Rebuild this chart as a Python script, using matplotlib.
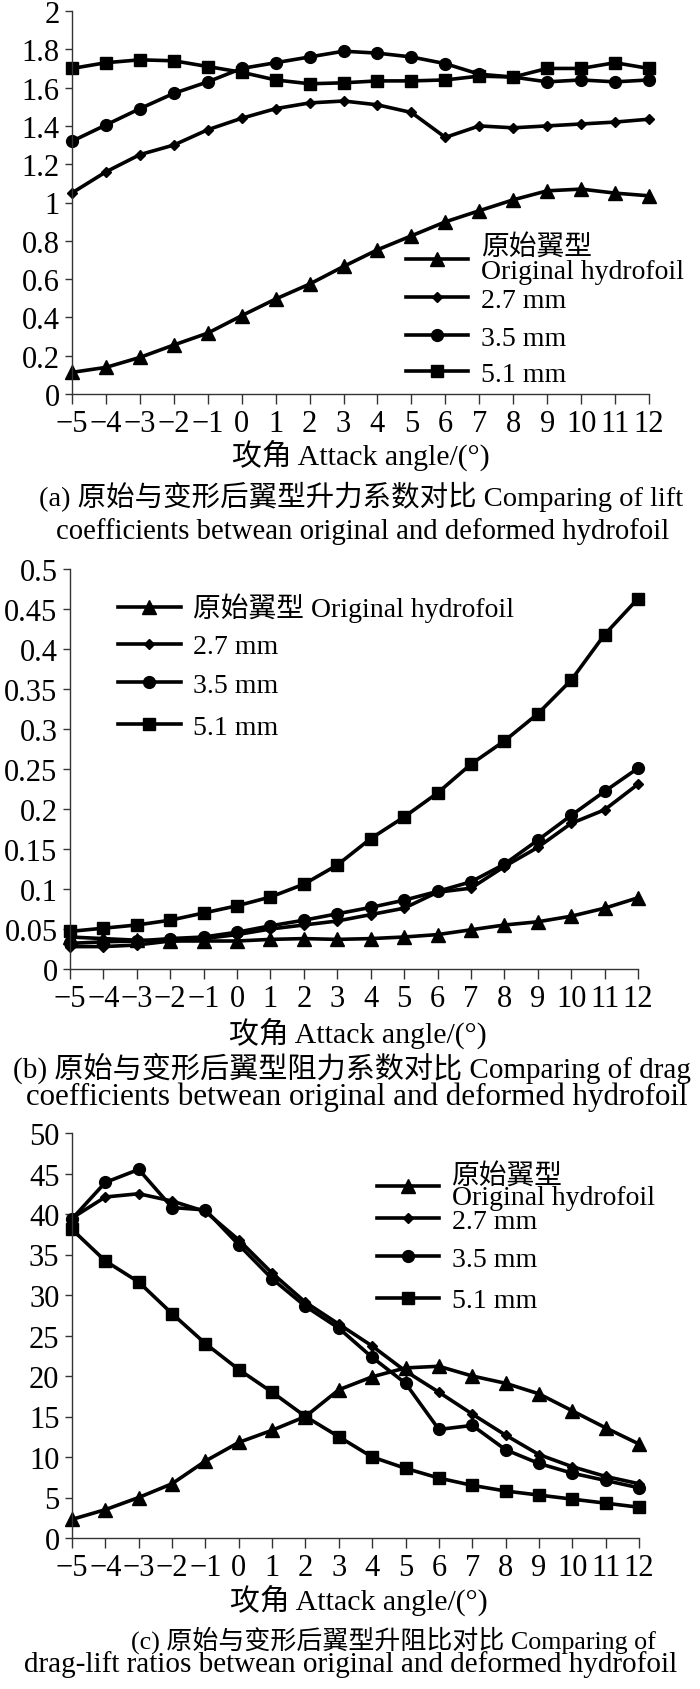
import matplotlib
matplotlib.use('Agg')
import matplotlib.pyplot as plt
from matplotlib.ticker import FixedLocator, FixedFormatter
from matplotlib.legend import Legend

plt.rcParams['font.family'] = ['Liberation Serif', 'Noto Sans CJK SC']

# ---------------- data ----------------
angles = list(range(-5, 13))
x_tick_labels = [str(a).replace('-', '\u2212') for a in angles]

# (a) lift coefficients
lift_original = [0.113, 0.139, 0.191, 0.256, 0.318, 0.409, 0.496, 0.574, 0.666, 0.753,
                 0.826, 0.899, 0.957, 1.014, 1.061, 1.070, 1.049, 1.035]
lift_27 = [1.05, 1.16, 1.25, 1.30, 1.38, 1.44, 1.49, 1.52, 1.53, 1.51,
           1.47, 1.34, 1.40, 1.39, 1.40, 1.41, 1.42, 1.435]
lift_35 = [1.32, 1.405, 1.49, 1.57, 1.63, 1.70, 1.73, 1.76, 1.79, 1.78,
           1.76, 1.725, 1.67, 1.655, 1.63, 1.64, 1.63, 1.64]
lift_51 = [1.70, 1.73, 1.745, 1.74, 1.71, 1.68, 1.64, 1.62, 1.625, 1.635,
           1.635, 1.64, 1.66, 1.655, 1.70, 1.70, 1.73, 1.70]
lift_yticks = [0, 0.2, 0.4, 0.6, 0.8, 1.0, 1.2, 1.4, 1.6, 1.8, 2.0]
lift_ytick_labels = ['0', '0.2', '0.4', '0.6', '0.8', '1', '1.2', '1.4', '1.6', '1.8', '2']

# (b) drag coefficients
drag_original = [0.040, 0.038, 0.036, 0.035, 0.035, 0.035, 0.037, 0.038, 0.037, 0.038,
                 0.040, 0.043, 0.049, 0.055, 0.059, 0.066, 0.076, 0.089]
drag_27 = [0.028, 0.028, 0.030, 0.035, 0.038, 0.043, 0.050, 0.055, 0.060, 0.068,
           0.076, 0.096, 0.101, 0.128, 0.152, 0.182, 0.199, 0.231]
drag_35 = [0.032, 0.034, 0.035, 0.038, 0.040, 0.046, 0.054, 0.061, 0.069, 0.077,
           0.086, 0.097, 0.109, 0.131, 0.161, 0.192, 0.222, 0.251]
drag_51 = [0.047, 0.051, 0.055, 0.061, 0.070, 0.079, 0.090, 0.106, 0.130, 0.163,
           0.190, 0.220, 0.256, 0.285, 0.319, 0.361, 0.418, 0.463]
drag_yticks = [0, 0.05, 0.1, 0.15, 0.2, 0.25, 0.3, 0.35, 0.4, 0.45, 0.5]
drag_ytick_labels = ['0', '0.05', '0.1', '0.15', '0.2', '0.25', '0.3', '0.35', '0.4', '0.45', '0.5']

# (c) lift-drag ratios
ratio_original = [2.3, 3.5, 5.0, 6.7, 9.5, 11.8, 13.3, 15.0, 18.3, 19.9,
                  21.0, 21.2, 20.0, 19.1, 17.8, 15.7, 13.6, 11.6]
ratio_27 = [39.5, 42.1, 42.5, 41.6, 40.3, 36.8, 32.7, 29.1, 26.4, 23.7,
            20.6, 18.0, 15.3, 12.7, 10.3, 8.8, 7.6, 6.7]
ratio_35 = [39.4, 43.9, 45.5, 40.8, 40.5, 36.2, 32.0, 28.6, 25.9, 22.3,
            19.1, 13.4, 13.9, 10.9, 9.2, 8.0, 7.1, 6.2]
ratio_51 = [38.1, 34.2, 31.6, 27.7, 24.0, 20.8, 18.0, 15.0, 12.5, 10.0,
            8.6, 7.4, 6.5, 5.8, 5.3, 4.8, 4.3, 3.8]
ratio_yticks = [0, 5, 10, 15, 20, 25, 30, 35, 40, 45, 50]
ratio_ytick_labels = [str(v) for v in ratio_yticks]

legend_labels_a = ['原始翼型\nOriginal hydrofoil', '2.7 mm', '3.5 mm', '5.1 mm']
legend_labels_b = ['原始翼型 Original hydrofoil', '2.7 mm', '3.5 mm', '5.1 mm']
legend_labels_c = ['原始翼型\nOriginal hydrofoil', '2.7 mm', '3.5 mm', '5.1 mm']

xlabel_text = '攻角 Attack angle/(°)'
caption_a = ['(a) 原始与变形后翼型升力系数对比 Comparing of lift',
             'coefficients betwean original and deformed hydrofoil']
caption_b = ['(b) 原始与变形后翼型阻力系数对比 Comparing of drag',
             'coefficients betwean original and deformed hydrofoil']
caption_c = ['(c) 原始与变形后翼型升阻比对比 Comparing of',
             'drag-lift ratios betwean original and deformed hydrofoil']

# ---------------- figure ----------------
W, H = 700, 1690
fig = plt.figure(figsize=(W / 100, H / 100), dpi=100)


def rect(left, top, right, bottom):
    return [left / W, 1 - bottom / H, (right - left) / W, (bottom - top) / H]


styles = [dict(marker='^', ms=9.5), dict(marker='D', ms=5.5),
          dict(marker='o', ms=8.5), dict(marker='s', ms=9)]
TICK_FS = 22
LEG_FS = 20


def setup(ax, series, yticks, ylabels, legend_labels, leg_x, leg_rows, two_line_spacing):
    handles = []
    for ys, st in zip(series, styles):
        h, = ax.plot(angles, ys, color='black', lw=2.6, **st)
        h.set_clip_on(False)
        handles.append(h)
    ax.set_xlim(angles[0], angles[-1])
    ax.set_ylim(yticks[0], yticks[-1])
    ax.xaxis.set_major_locator(FixedLocator(angles))
    ax.xaxis.set_major_formatter(FixedFormatter(x_tick_labels))
    ax.yaxis.set_major_locator(FixedLocator(yticks))
    ax.yaxis.set_major_formatter(FixedFormatter(ylabels))
    for s in ['top', 'right']:
        ax.spines[s].set_visible(False)
    for s in ['left', 'bottom']:
        ax.spines[s].set_linewidth(1.0)
        ax.spines[s].set_color('#333333')
    ax.tick_params(axis='x', direction='out', length=7, width=1.0, pad=4,
                   labelsize=TICK_FS, color='#333333')
    ax.tick_params(axis='y', direction='out', length=5, width=1.0, pad=4,
                   labelsize=TICK_FS, color='#333333')
    # one legend artist per entry so each row can sit where it is in the reference
    for h, lab, yc in zip(handles, legend_labels, leg_rows):
        leg = Legend(ax, [h], [lab], loc='center left', bbox_to_anchor=(leg_x, yc),
                     bbox_transform=ax.transData, frameon=False, fontsize=LEG_FS,
                     handlelength=2.25, handletextpad=0.45, borderpad=0, borderaxespad=0)
        for t in leg.get_texts():
            t.set_linespacing(two_line_spacing)
        ax.add_artist(leg)
    return ax


ax_a = fig.add_axes(rect(72, 12, 649, 395))
setup(ax_a, [lift_original, lift_27, lift_35, lift_51], lift_yticks, lift_ytick_labels,
      legend_labels_a, 4.83, [0.705, 0.49, 0.291, 0.104], 0.95)

ax_b = fig.add_axes(rect(70, 570, 638, 970))
setup(ax_b, [drag_original, drag_27, drag_35, drag_51], drag_yticks, drag_ytick_labels,
      legend_labels_b, -3.56, [0.452, 0.403, 0.355, 0.302], 1.0)

ax_c = fig.add_axes(rect(72, 1134, 639, 1539))
setup(ax_c, [ratio_original, ratio_27, ratio_35, ratio_51], ratio_yticks, ratio_ytick_labels,
      legend_labels_c, 4.13, [43.4, 39.1, 34.4, 29.3], 0.8)


def ftext(x, y, s, fs):
    fig.text(x / W, 1 - y / H, s, ha='center', va='center', fontsize=fs)


ftext(361, 455, xlabel_text, 21.5)
ftext(361, 497, caption_a[0], 20.5)
ftext(363, 532, caption_a[1], 20.7)

ftext(358, 1033, xlabel_text, 21.5)
ftext(352, 1068, caption_b[0], 21.0)
ftext(357, 1097, caption_b[1], 22.3)

ftext(359, 1600, xlabel_text, 21.5)
ftext(393, 1640, caption_c[0], 18.7)
ftext(351, 1665, caption_c[1], 21.0)

fig.savefig('out.png', dpi=100)
